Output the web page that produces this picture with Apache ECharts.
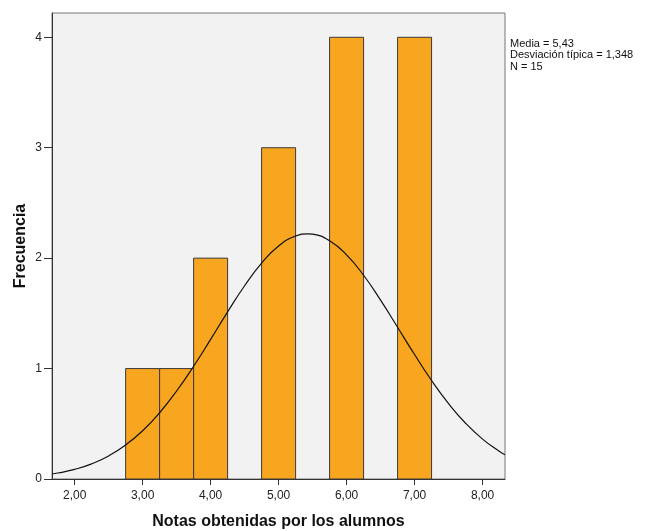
<!DOCTYPE html>
<html><head><meta charset="utf-8">
<script src="https://cdn.jsdelivr.net/npm/echarts@6/dist/echarts.min.js"></script>
<style>html,body{margin:0;padding:0;background:#fff}#c{width:645px;height:531px}</style>
</head><body><div id="c"></div>
<script>
// Histogram bins: [start, end, count]
const binStarts = [2.75, 3.25, 3.75, 4.75, 5.75, 6.75];
const binEnds   = [3.25, 3.75, 4.25, 5.25, 6.25, 7.25];
const counts    = [1, 1, 2, 3, 4, 4];
// Fitted normal curve
const curveX = [1.667,1.75,2.0,2.25,2.5,2.75,3.0,3.25,3.5,3.75,4.0,4.25,4.5,4.75,5.0,5.25,5.43,5.5,5.75,6.0,6.25,6.5,6.75,7.0,7.25,7.5,7.75,8.0,8.25,8.33];
const curveY = [0.045,0.054,0.087,0.137,0.209,0.308,0.437,0.600,0.797,1.021,1.264,1.513,1.750,1.955,2.110,2.200,2.220,2.217,2.158,2.030,1.845,1.620,1.374,1.127,0.892,0.683,0.505,0.361,0.249,0.220];
const xTicks = [2,3,4,5,6,7,8];
const yTicks = [0,1,2,3,4];
const statsLines = ['Media = 5,43','Desviación típica = 1,348','N = 15'];

const font = '"Liberation Sans", Arial, sans-serif';
const chart = echarts.init(document.getElementById('c'), null, {renderer:'canvas'});
const binData = binStarts.map((s,i)=>[s, binEnds[i], counts[i]]);
chart.setOption({
  animation:false,
  textStyle:{fontFamily:font},
  grid:{left:52,top:13,right:140,bottom:52,outerBoundsMode:'none',containLabel:false,show:true,backgroundColor:'#f2f2f2',borderColor:'#777',borderWidth:1},
  xAxis:{type:'value',min:1.667,max:8.33,
    name:'Notas obtenidas por los alumnos',nameLocation:'middle',nameGap:35,
    nameTextStyle:{fontFamily:font,fontSize:16,fontWeight:'bold',color:'#111'},
    axisLine:{show:true,onZero:false,lineStyle:{color:'#333'}},
    axisTick:{show:true,length:6,customValues:xTicks,lineStyle:{color:'#333'}},
    axisLabel:{customValues:xTicks,fontSize:12,color:'#222',margin:11,fontFamily:font,
      formatter:v=>v.toFixed(2).replace('.',',')},
    splitLine:{show:false}},
  yAxis:{type:'value',min:0,max:4.22,
    name:'Frecuencia',nameLocation:'middle',nameGap:23,nameRotate:90,nameMoveOverlap:false,
    nameTextStyle:{fontFamily:font,fontSize:16,fontWeight:'bold',color:'#111'},
    axisLine:{show:true,lineStyle:{color:'#333'}},
    axisTick:{show:true,length:8,customValues:yTicks,lineStyle:{color:'#333'}},
    axisLabel:{customValues:yTicks,fontSize:12,color:'#222',margin:10,fontFamily:font},
    splitLine:{show:false}},
  series:[
    {type:'custom',data:binData,renderItem:(params,api)=>{
      const p0=api.coord([api.value(0),api.value(2)]);
      const p1=api.coord([api.value(1),0]);
      return {type:'rect',shape:{x:p0[0],y:p0[1],width:p1[0]-p0[0],height:p1[1]-p0[1]},
        style:{fill:'#f8a520',stroke:'#3a3a3a',lineWidth:1}};
    },z:2},
    {type:'line',data:curveX.map((x,i)=>[x,curveY[i]]),smooth:true,showSymbol:false,
      lineStyle:{color:'#111',width:1.2},z:3}
  ],
  graphic:[{type:'text',left:510,top:38,style:{text:statsLines.join('\n'),fontFamily:font,fontSize:11,lineHeight:11.5,fill:'#111'}}]
});
</script></body></html>
